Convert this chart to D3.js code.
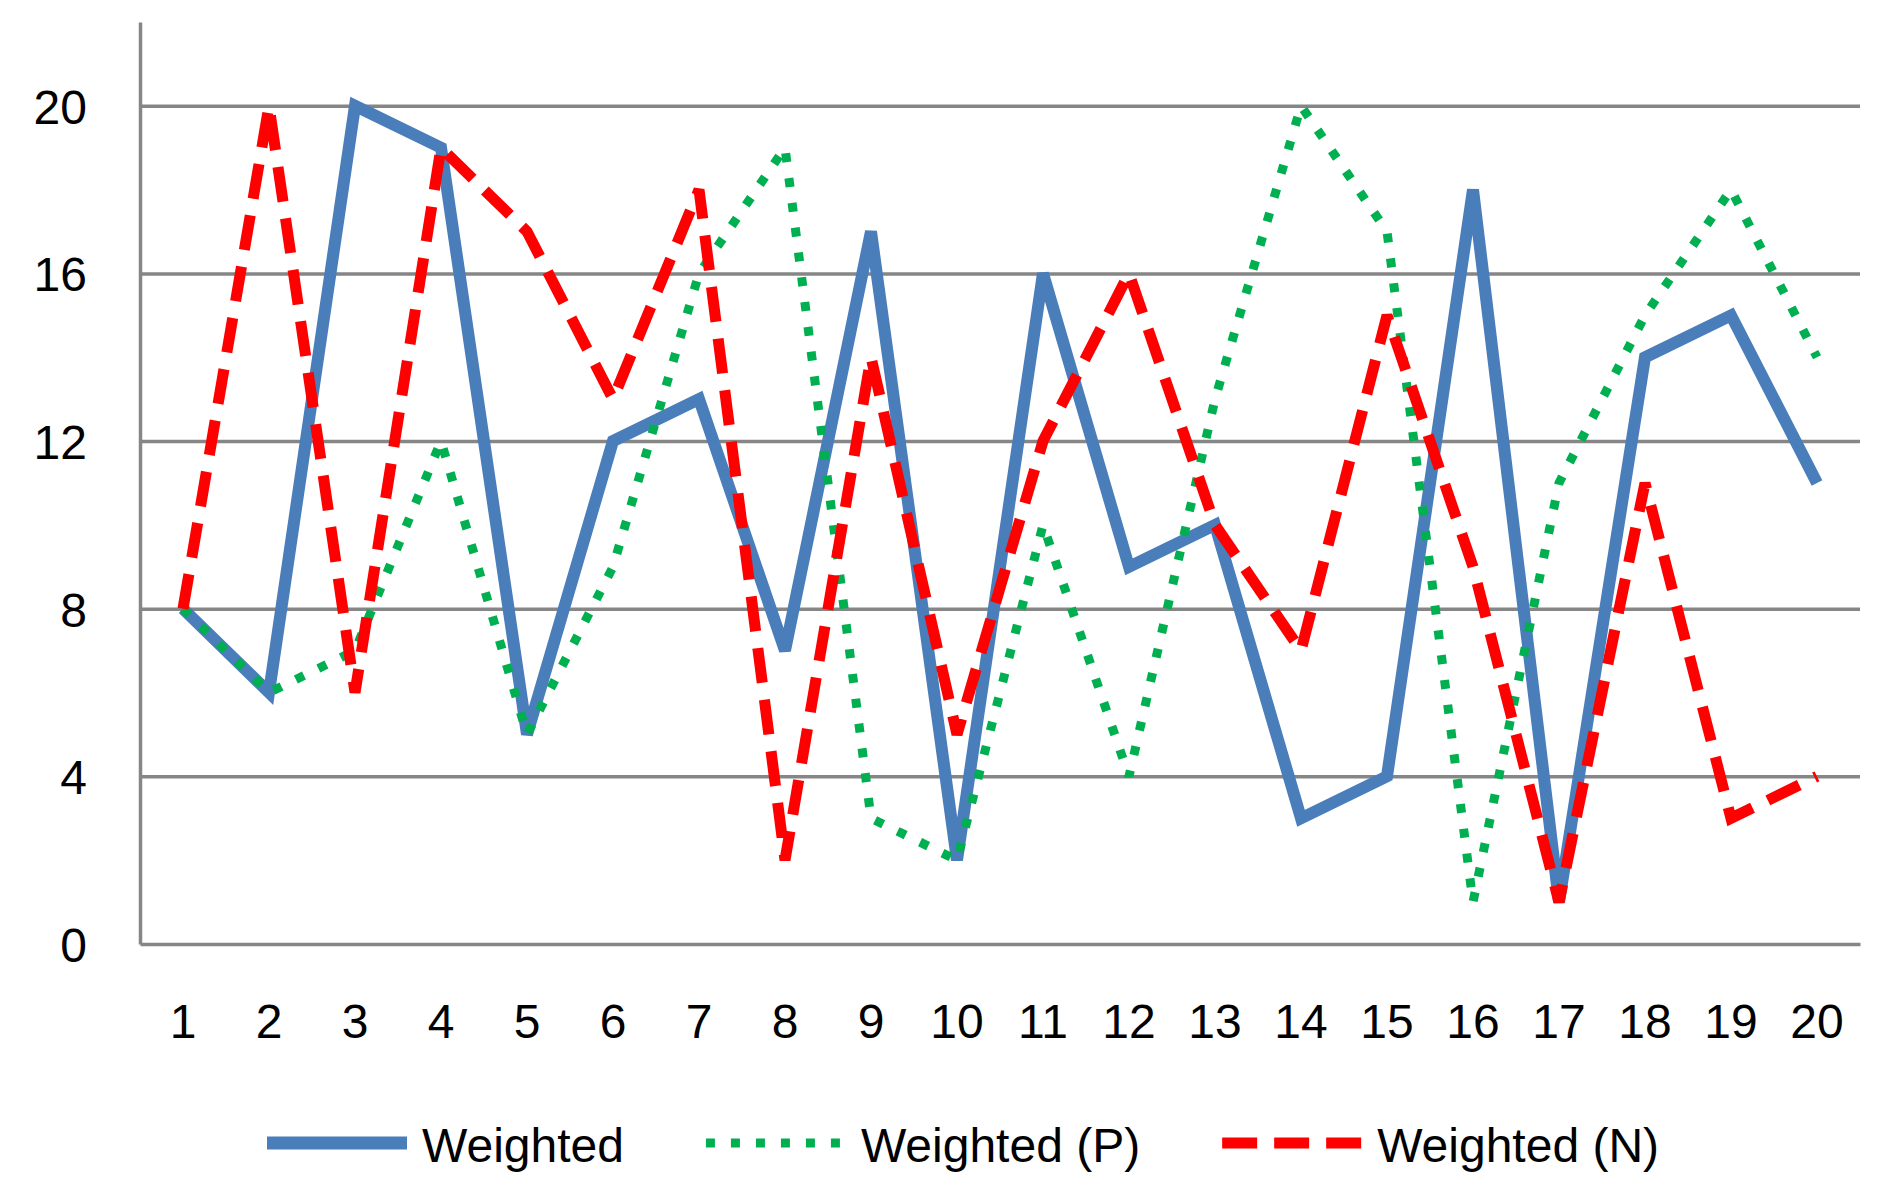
<!DOCTYPE html>
<html>
<head>
<meta charset="utf-8">
<script src="https://cdn.jsdelivr.net/npm/d3@7"></script>
<style>
  body { margin: 0; background: #fff; }
  text { font-family: "Liberation Sans", Arial, sans-serif; fill: #000; }
</style>
</head>
<body>
<svg width="1895" height="1200"></svg>
<script>
// chart values
const categories = d3.range(1, 21).map(String);
const weighted  = [8, 6, 20, 19, 5, 12, 13, 7, 17, 2, 16, 9, 10, 3, 4, 18, 1, 14, 15, 11];
const weightedP = [8, 6, 7, 12, 5, 9, 16, 19, 3, 2, 10, 4, 13, 20, 17, 1, 11, 15, 18, 14];
const weightedN = [8, 20, 6, 19, 17, 13, 18, 2, 14, 5, 12, 16, 10, 7, 15, 9, 1, 11, 3, 4];
const yTicks = [0, 4, 8, 12, 16, 20];
const seriesNames = ['Weighted', 'Weighted (P)', 'Weighted (N)'];

const series = [
  {name: seriesNames[0], values: weighted,  color: '#4a7ebb', width: 12, dash: null},
  {name: seriesNames[1], values: weightedP, color: '#00b050', width: 9,  dash: '9,16'},
  {name: seriesNames[2], values: weightedN, color: '#ff0000', width: 11, dash: '35,17'}
];

const svg = d3.select('svg');
const margin = {left: 140, top: 22, right: 35, bottom: 256};
const width = +svg.attr('width') - margin.left - margin.right;
const height = +svg.attr('height') - margin.top - margin.bottom;
const gridColor = '#868686';

const xScale = d3.scaleBand()
  .domain(categories)
  .range([0, width]);

const yScale = d3.scaleLinear()
  .domain([0, 22])
  .range([height, 0]);

const g = svg.append('g')
  .attr('transform', `translate(${margin.left},${margin.top})`);

// gridlines
const grid = g.append('g')
  .call(d3.axisLeft(yScale).tickValues(yTicks.slice(1)).tickSize(-width).tickFormat(''));
grid.select('.domain').remove();
grid.selectAll('.tick line').attr('stroke', gridColor).attr('stroke-width', 3.5);

// y axis
const yAxisG = g.append('g')
  .call(d3.axisLeft(yScale).tickValues(yTicks).tickSize(0).tickPadding(53).tickSizeOuter(0));
yAxisG.select('.domain').attr('stroke', gridColor).attr('stroke-width', 3.5);
yAxisG.selectAll('text').attr('font-size', 48).attr('dy', '0.36em')
  .style('font-family', '"Liberation Sans", Arial, sans-serif');

// x axis
const xAxisG = g.append('g')
  .attr('transform', `translate(0,${height})`)
  .call(d3.axisBottom(xScale).tickSize(0).tickPadding(60).tickSizeOuter(0));
xAxisG.select('.domain').attr('stroke', gridColor).attr('stroke-width', 3.5);
xAxisG.selectAll('text').attr('font-size', 48)
  .style('font-family', '"Liberation Sans", Arial, sans-serif');

// lines
const line = d3.line()
  .x((d, i) => xScale(categories[i]) + xScale.bandwidth() / 2)
  .y(d => yScale(d));

g.selectAll('.series')
  .data(series).enter().append('path')
    .attr('class', 'series')
    .attr('d', d => line(d.values))
    .attr('fill', 'none')
    .attr('stroke', d => d.color)
    .attr('stroke-width', d => d.width)
    .attr('stroke-dasharray', d => d.dash)
    .attr('stroke-linejoin', 'miter')
    .attr('stroke-miterlimit', 3);

// legend
const legend = svg.append('g').attr('transform', 'translate(267,1143)');
let lx = 0;
series.forEach(s => {
  legend.append('line')
    .attr('x1', lx).attr('x2', lx + 140)
    .attr('y1', 0).attr('y2', 0)
    .attr('stroke', s.color)
    .attr('stroke-width', s.dash ? s.width : 13)
    .attr('stroke-dasharray', s.dash);
  const t = legend.append('text')
    .attr('x', lx + 155)
    .attr('y', 19)
    .attr('font-size', 48)
    .text(s.name);
  lx += 155 + t.node().getComputedTextLength() + 82;
});
</script>
</body>
</html>
